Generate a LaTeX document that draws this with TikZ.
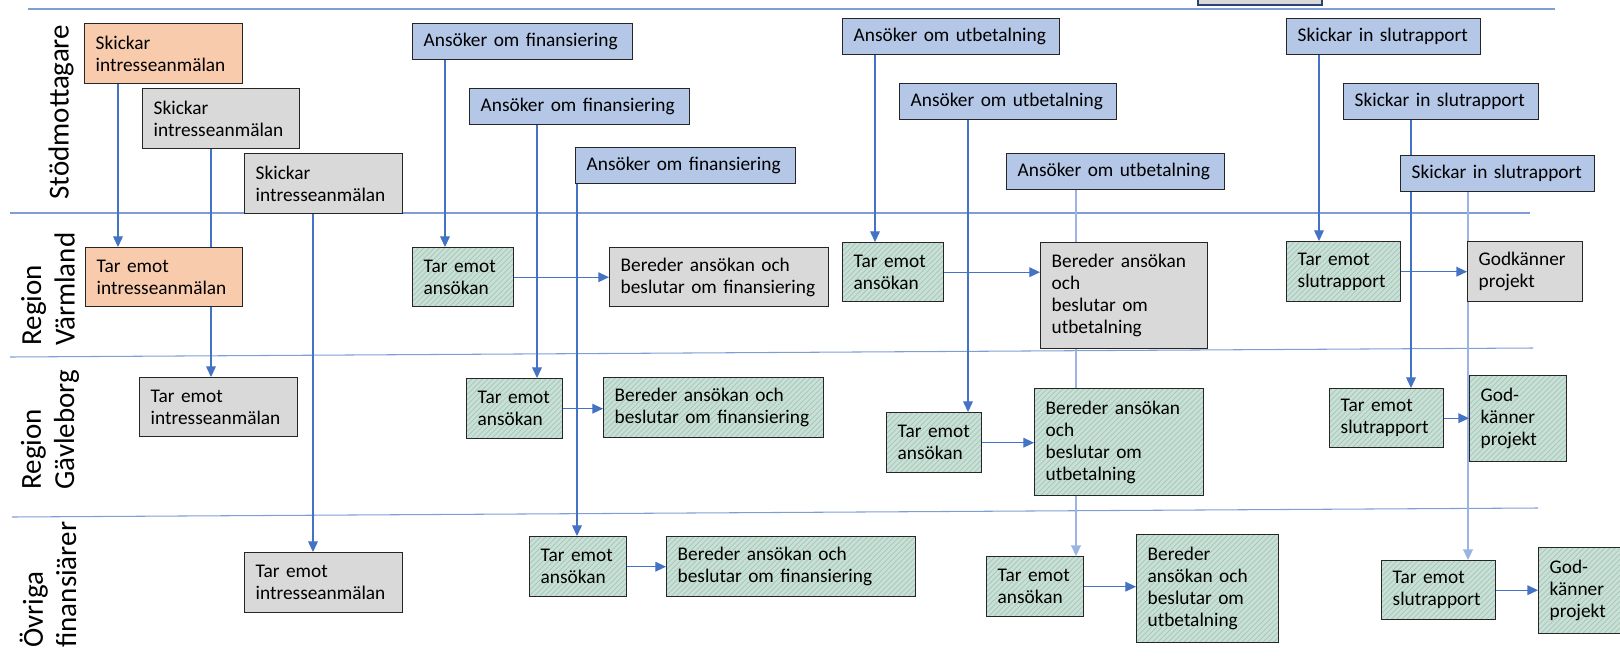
\documentclass[tikz,border=0pt]{standalone}
\usepackage{fontspec}
\setmainfont{Carlito}
\usetikzlibrary{arrows.meta,patterns,backgrounds}

\definecolor{laneblue}{HTML}{7F9ED8}
\definecolor{flowblue}{HTML}{4472C4}
\definecolor{flowpale}{HTML}{9CB4E0}
\definecolor{boxorange}{HTML}{F8CBAD}
\definecolor{boxgrey}{HTML}{D9D9D9}
\definecolor{boxblue}{HTML}{B4C7E7}
\definecolor{boxgreen}{HTML}{C9E0D7}
\definecolor{hatchgreen}{HTML}{A6C6BA}
\newcommand{\boxfont}{\fontsize{11}{12.6}\selectfont\hyphenpenalty=10000\exhyphenpenalty=10000}
\newcommand{\lanefont}{\fontsize{16.5}{19}\selectfont}

\tikzset{
  box/.style={draw=black!85, line width=0.8pt, inner sep=0pt, align=left, font=\boxfont, anchor=north west},
  sz/.style 2 args={minimum width=#1*0.02cm, minimum height=#2*0.02cm, text width=#1*0.02cm-0.44cm},
  orangebox/.style={box, fill=boxorange},
  greybox/.style={box, fill=boxgrey},
  bluebox/.style={box, fill=boxblue},
  greenbox/.style={box, preaction={fill=boxgreen}, pattern=north east lines, pattern color=hatchgreen},
  lane/.style={draw=laneblue, line width=0.6pt},
  flow/.style={draw=flowblue, line width=0.6pt, -{Triangle[length=6pt,width=5.5pt]}},
  paleflow/.style={flow, draw=flowpale, line width=1pt},
  lanelabel/.style={rotate=90, anchor=west, inner sep=0pt, align=left, font=\lanefont},
}

\begin{document}
\begin{tikzpicture}[x=0.02cm, y=-0.02cm]
\useasboundingbox (0,0) rectangle (1620,656);

% lane labels
\node[lanelabel] (stod) at (61,200) {Stödmottagare};
\node[lanelabel] (varm) at (48,346) {Region\\Värmland};
\node[lanelabel] (gavle) at (50,490) {Region\\Gävleborg};
\node[lanelabel] (ovr) at (48,648) {Övriga\\finansiärer};

% box cut off at the top edge
\draw[draw=flowblue!60!black, fill=boxgrey, line width=0.8pt] (1198,-20) rectangle (1322,5);

% Stödmottagare
\node[orangebox, sz={158}{60}] (sint1) at (84,23) {Skickar\\intresseanmälan};
\node[greybox, sz={157}{60}] (sint2) at (142,88) {Skickar\\intresseanmälan};
\node[greybox, sz={158}{60}] (sint3) at (244,153) {Skickar\\intresseanmälan};
\node[bluebox, sz={220}{36}] (fin1) at (412,23) {Ansöker om finansiering};
\node[bluebox, sz={220}{36}] (fin2) at (469,88) {Ansöker om finansiering};
\node[bluebox, sz={220}{36}] (fin3) at (575,147) {Ansöker om finansiering};
\node[bluebox, sz={217}{36}] (utb1) at (842,18) {Ansöker om utbetalning};
\node[bluebox, sz={217}{36}] (utb2) at (899,83) {Ansöker om utbetalning};
\node[bluebox, sz={218}{36}] (utb3) at (1006,153) {Ansöker om utbetalning};
\node[bluebox, sz={194}{36}] (rap1) at (1286,18) {Skickar in slutrapport};
\node[bluebox, sz={195}{36}] (rap2) at (1343,83) {Skickar in slutrapport};
\node[bluebox, sz={194}{36}] (rap3) at (1400,155) {Skickar in slutrapport};

% Region Värmland
\node[orangebox, sz={157}{59}] (vint) at (85,247) {Tar emot\\intresseanmälan};
\node[greenbox, sz={101}{59}] (vtarf) at (412,247) {Tar emot\\ansökan};
\node[greybox, sz={219}{59}] (vberf) at (609,247) {Bereder ansökan och\\beslutar om finansiering};
\node[greenbox, sz={101}{59}] (vtaru) at (842,242) {Tar emot\\ansökan};
\node[greybox, sz={167}{106}] (vberu) at (1040,242) {Bereder ansökan\\och\\beslutar om\\utbetalning};
\node[greenbox, sz={114}{60}] (vtarr) at (1286,241) {Tar emot\\slutrapport};
\node[greybox, sz={115}{60}] (vgod) at (1467,241) {Godkänner\\projekt};

% Region Gävleborg
\node[greybox, sz={158}{59}] (gint) at (139,377) {Tar emot\\intresseanmälan};
\node[greenbox, sz={96}{60}] (gtarf) at (466,378) {Tar emot\\ansökan};
\node[greenbox, sz={220}{60}] (gberf) at (603,377) {Bereder ansökan och\\beslutar om finansiering};
\node[greenbox, sz={95}{60}] (gtaru) at (886,412) {Tar emot\\ansökan};
\node[greenbox, sz={169}{107}] (gberu) at (1034,388) {Bereder ansökan\\och\\beslutar om\\utbetalning};
\node[greenbox, sz={114}{59}] (gtarr) at (1329,388) {Tar emot\\slutrapport};
\node[greenbox, sz={97}{86}] (ggod) at (1469,375) {God-\\känner\\projekt};

% Övriga finansiärer
\node[greybox, sz={158}{60}] (oint) at (244,552) {Tar emot\\intresseanmälan};
\node[greenbox, sz={97}{60}] (otarf) at (529,536) {Tar emot\\ansökan};
\node[greenbox, sz={249}{60}] (oberf) at (666,536) {Bereder ansökan och\\beslutar om finansiering};
\node[greenbox, sz={97}{60}] (otaru) at (986,556) {Tar emot\\ansökan};
\node[greenbox, sz={142}{108}] (oberu) at (1136,534) {Bereder\\ansökan och\\beslutar om\\utbetalning};
\node[greenbox, sz={114}{59}] (otarr) at (1381,560) {Tar emot\\slutrapport};
\node[greenbox, sz={97}{86}] (ogod) at (1538,547) {God-\\känner\\projekt};

\begin{scope}[on background layer]
% lanes
\draw[lane] (28,9) -- (1555,9);
\draw[lane] (10,213) -- (1530,213);
\draw[lane] (10,357) -- (1533,348);
\draw[lane] (12,517) -- (1538,508);

% interest
\draw[flow] (sint1.south -| 118,0) -- (vint.north -| 118,0);
\draw[flow] (sint2.south -| 211,0) -- (gint.north -| 211,0);
\draw[flow] (sint3.south -| 313,0) -- (oint.north -| 313,0);

% financing
\draw[flow] (fin1.south -| 445,0) -- (vtarf.north -| 445,0);
\draw[flow] (fin2.south -| 537,0) -- (gtarf.north -| 537,0);
\draw[flow] (fin3.south -| 577,0) -- (otarf.north -| 577,0);
\draw[flow] (vtarf.east) -- (vberf.west);
\draw[flow] (gtarf.east) -- (gtarf.east -| gberf.west);
\draw[flow] (otarf.east) -- (oberf.west);

% payment
\draw[flow] (utb1.south -| 875,0) -- (vtaru.north -| 875,0);
\draw[flow] (utb2.south -| 968,0) -- (gtaru.north -| 968,0);
\draw[paleflow] (utb3.south -| 1076,0) -- (otaru.north -| 1076,0);
\draw[flow] (vtaru.east) -- (vtaru.east -| vberu.west);
\draw[flow] (gtaru.east) -- (gtaru.east -| gberu.west);
\draw[flow] (otaru.east) -- (otaru.east -| oberu.west);

% final report
\draw[flow] (rap1.south -| 1319,0) -- (vtarr.north -| 1319,0);
\draw[flow] (rap2.south -| 1411,0) -- (gtarr.north -| 1411,0);
\draw[paleflow] (rap3.south -| 1468,0) -- (otarr.north -| 1468,0);
\draw[flow] (vtarr.east) -- (vtarr.east -| vgod.west);
\draw[flow] (gtarr.east) -- (gtarr.east -| ggod.west);
\draw[flow] (otarr.east) -- (otarr.east -| ogod.west);
\end{scope}

\end{tikzpicture}
\end{document}
